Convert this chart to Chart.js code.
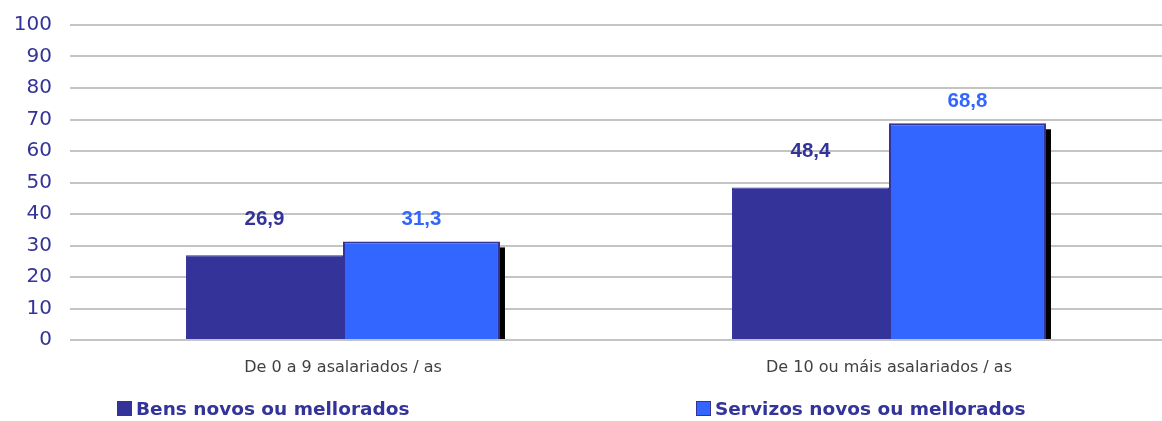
<!DOCTYPE html>
<html>
<head>
<meta charset="utf-8">
<script src="https://cdn.jsdelivr.net/npm/chart.js@4"></script>
<style>
    body { margin: 0; background: #fff; }
    #wrap { position: relative; width: 1162px; height: 421px; }
    #chart { position: absolute; left: 0; top: 0; }
    .legend-item {
        position: absolute;
        top: 398px;
        font: bold 18.5px "DejaVu Sans", Verdana, sans-serif;
        color: #333399;
        white-space: nowrap;
        line-height: 22px;
    }
    .legend-item span.box {
        display: inline-block;
        width: 15px;
        height: 15px;
        margin-right: 4px;
        vertical-align: -1px;
        box-sizing: border-box;
        border: 1px solid #333399;
    }
</style>
</head>
<body>
<div id="wrap">
    <canvas id="chart" width="1162" height="421"></canvas>
    <div class="legend-item" style="left:117px"><span class="box" style="background:#333399"></span>Bens novos ou mellorados</div>
    <div class="legend-item" style="left:696px"><span class="box" style="background:#3366FF"></span>Servizos novos ou mellorados</div>
</div>
<script>
const categories = ['De 0 a 9 asalariados / as', 'De 10 ou máis asalariados / as'];
const bens = [26.9, 48.4];
const servizos = [31.3, 68.8];
const yTicks = [0, 10, 20, 30, 40, 50, 60, 70, 80, 90, 100];

// black drop shadow on the right of the light blue bars
const barShadow = {
    id: 'barShadow',
    beforeDatasetDraw(chart, args) {
        if (args.index !== 1) return;
        const ctx = chart.ctx;
        ctx.save();
        ctx.fillStyle = '#000';
        args.meta.data.forEach(bar => {
            const right = bar.x + bar.width / 2;
            ctx.fillRect(right - 1, bar.y + 6, 6, bar.base - bar.y - 6);
        });
        ctx.restore();
    }
};

// value labels above bars
const valueLabels = {
    id: 'valueLabels',
    afterDatasetsDraw(chart) {
        const ctx = chart.ctx;
        ctx.save();
        ctx.font = 'bold 20.5px "Liberation Sans", Arial, sans-serif';
        ctx.textAlign = 'center';
        ctx.textBaseline = 'middle';
        chart.data.datasets.forEach((ds, i) => {
            const meta = chart.getDatasetMeta(i);
            ctx.fillStyle = ds.labelColor;
            meta.data.forEach((bar, j) => {
                const txt = String(ds.data[j]).replace('.', ',');
                ctx.fillText(txt, bar.x, bar.y - ds.labelOffset);
            });
        });
        ctx.restore();
    }
};

new Chart(document.getElementById('chart'), {
    type: 'bar',
    data: {
        labels: categories,
        datasets: [{
            label: 'Bens novos ou mellorados',
            data: bens,
            backgroundColor: '#333399',
            borderColor: '#333399',
            borderWidth: 1,
            labelColor: '#333399',
            labelOffset: 36
        }, {
            label: 'Servizos novos ou mellorados',
            data: servizos,
            backgroundColor: '#3366FF',
            borderColor: '#333399',
            borderWidth: 2,
            labelColor: '#3366FF',
            labelOffset: 22
        }]
    },
    options: {
        responsive: false,
        animation: false,
        events: [],
        categoryPercentage: 0.575,
        barPercentage: 1,
        layout: { padding: { top: 25, right: 0, bottom: 40, left: 0 } },
        plugins: {
            legend: { display: false },
            tooltip: { enabled: false }
        },
        scales: {
            x: {
                grid: { display: false },
                border: { display: false },
                ticks: {
                    color: '#404040',
                    font: { family: '"DejaVu Sans", Verdana, sans-serif', size: 16 },
                    padding: 10
                },
                afterFit(scale) { scale.height = 41; }
            },
            y: {
                min: 0,
                max: 100,
                afterBuildTicks(scale) { scale.ticks = yTicks.map(v => ({ value: v })); },
                grid: { color: '#c4c4c4', lineWidth: 2, drawTicks: false },
                border: { display: false },
                ticks: {
                    color: '#333399',
                    font: { family: '"DejaVu Sans", Verdana, sans-serif', size: 20 },
                    padding: 18
                },
                afterFit(scale) {
                    scale.width = 70;
                    scale.paddingTop = 0;
                    scale.paddingBottom = 0;
                }
            }
        }
    },
    plugins: [barShadow, valueLabels]
});
</script>
</body>
</html>
